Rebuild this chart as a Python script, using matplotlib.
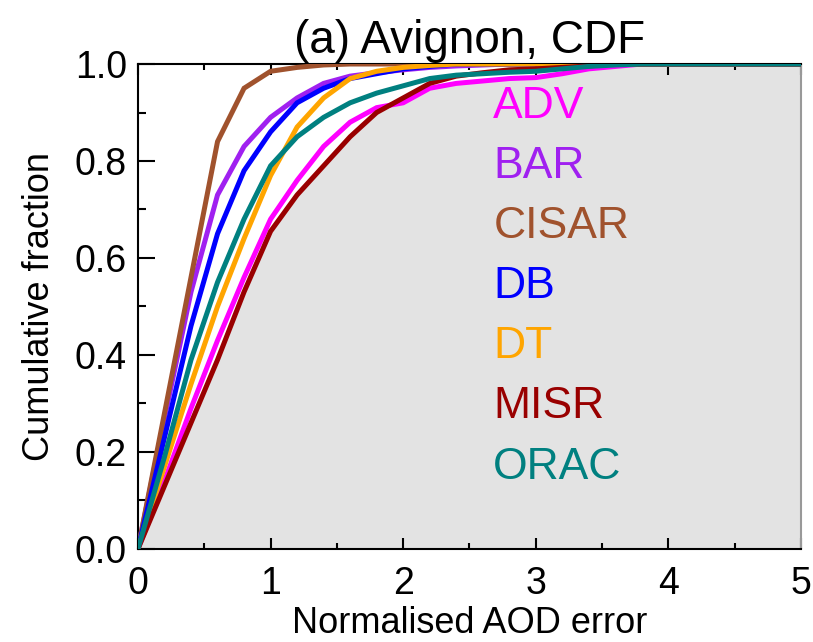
import numpy as np
import matplotlib.pyplot as plt
from matplotlib.ticker import MultipleLocator

plt.rcParams['font.family'] = ['Liberation Sans', 'DejaVu Sans']

# normalised error grid (step 0.2)
err = [0.0, 0.2, 0.4, 0.6, 0.8, 1.0, 1.2, 1.4, 1.6, 1.8, 2.0, 2.2, 2.4, 2.6, 2.8,
       3.0, 3.2, 3.4, 3.6, 3.8, 4.0, 5.0]

adv = [0, 0.14, 0.29, 0.43, 0.56, 0.68, 0.76, 0.83, 0.88, 0.91, 0.92, 0.95, 0.96,
       0.965, 0.97, 0.972, 0.98, 0.99, 0.995, 1.0, 1.0, 1.0]
bar = [0, 0.27, 0.53, 0.73, 0.83, 0.89, 0.93, 0.96, 0.975, 0.982, 0.988, 0.993, 0.996,
       0.998, 1.0, 1.0, 1.0, 1.0, 1.0, 1.0, 1.0, 1.0]
cisar = [0, 0.28, 0.56, 0.84, 0.95, 0.985, 0.993, 0.998, 1.0, 1.0, 1.0, 1.0, 1.0,
         1.0, 1.0, 1.0, 1.0, 1.0, 1.0, 1.0, 1.0, 1.0]
db = [0, 0.23, 0.46, 0.65, 0.78, 0.86, 0.92, 0.95, 0.97, 0.98, 0.99, 0.995, 1.0,
      1.0, 1.0, 1.0, 1.0, 1.0, 1.0, 1.0, 1.0, 1.0]
dt = [0, 0.17, 0.34, 0.50, 0.64, 0.77, 0.87, 0.93, 0.97, 0.985, 0.993, 0.997, 1.0,
      1.0, 1.0, 1.0, 1.0, 1.0, 1.0, 1.0, 1.0, 1.0]
misr = [0, 0.13, 0.26, 0.39, 0.53, 0.655, 0.73, 0.79, 0.85, 0.90, 0.93, 0.96, 0.975,
        0.982, 0.988, 0.99, 0.993, 0.996, 1.0, 1.0, 1.0, 1.0]
orac = [0, 0.19, 0.39, 0.55, 0.68, 0.79, 0.85, 0.89, 0.92, 0.94, 0.955, 0.97, 0.977,
        0.98, 0.983, 0.985, 0.99, 0.995, 0.998, 1.0, 1.0, 1.0]

names = ['ADV', 'BAR', 'CISAR', 'DB', 'DT', 'MISR', 'ORAC']
series = [adv, bar, cisar, db, dt, misr, orac]
colors = ['#ff00ff', '#a020f0', '#a0522d', '#0000ff', '#ffa500', '#990000', '#008080']

fig = plt.figure(figsize=(8.13, 6.42), dpi=100)
ax = fig.add_axes([0.1697, 0.1449, 0.8155, 0.7554])

# shade everything below the lowest curve
lowest = np.min(np.array(series), axis=0)
ax.fill_between(err, 0, lowest, color='#e3e3e3', lw=0, zorder=1)

for y, c in zip(series, colors):
    ax.plot(err, y, color=c, lw=3.6, zorder=3, solid_joinstyle='miter')

for i, (name, c) in enumerate(zip(names, colors)):
    ax.text(2.68, 0.913 - 0.124 * i, name, color=c, fontsize=32,
            ha='left', va='center', zorder=4)

ax.set_xlim(0, 5)
ax.set_ylim(0, 1)
ax.xaxis.set_major_locator(MultipleLocator(1))
ax.xaxis.set_minor_locator(MultipleLocator(0.5))
ax.yaxis.set_major_locator(MultipleLocator(0.2))
ax.yaxis.set_minor_locator(MultipleLocator(0.1))
ax.yaxis.set_major_formatter(plt.FormatStrFormatter('%.1f'))

ax.tick_params(axis='x', which='major', direction='in', length=8, width=1.5,
               top=True, labelsize=27, pad=12)
ax.tick_params(axis='x', which='minor', direction='in', length=4.5, width=1.5, top=True)
ax.tick_params(axis='y', which='major', direction='in', length=12, width=1.5,
               right=False, labelsize=27, pad=8)
ax.tick_params(axis='y', which='minor', direction='in', length=6, width=1.5, right=False)

for s in ['left', 'bottom', 'top']:
    ax.spines[s].set_linewidth(1.5)
ax.spines['right'].set_color('#999999')
ax.spines['right'].set_linewidth(1.5)

ax.set_xlabel('Normalised AOD error', fontsize=26, labelpad=3)
ax.set_ylabel('Cumulative fraction', fontsize=26, labelpad=13)
ax.set_title('(a) Avignon, CDF', fontsize=33, pad=8)

fig.savefig('out.png', dpi=100)
